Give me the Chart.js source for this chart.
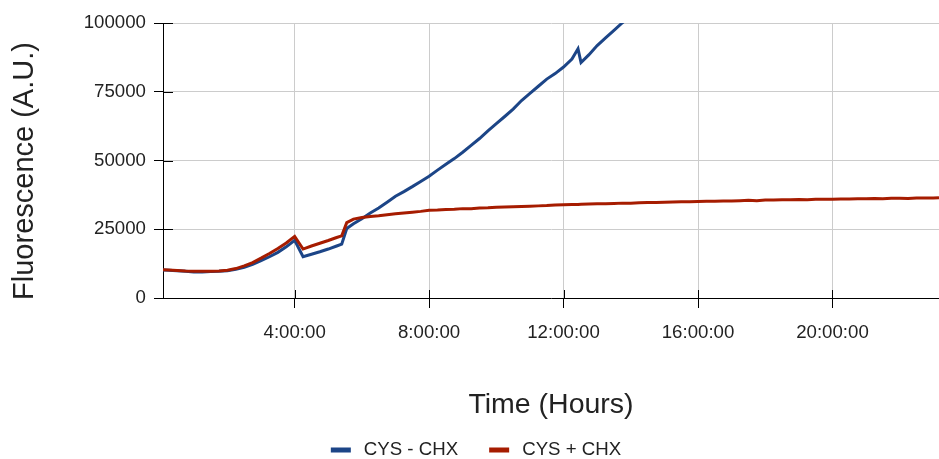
<!DOCTYPE html>
<html>
<head>
<meta charset="utf-8">
<script src="https://cdn.jsdelivr.net/npm/chart.js@4/dist/chart.umd.min.js"></script>
<style>
  html, body { margin: 0; padding: 0; background: #fff; }
</style>
</head>
<body>
<canvas id="grafico" width="939" height="459"></canvas>
<script>
// reading times, in hours since start
const hours = [
  0.083, 0.25, 0.5, 0.75,
  1, 1.25, 1.5, 1.75,
  2, 2.25, 2.5, 2.75,
  3, 3.25, 3.5, 3.75,
  4, 4.25, 4.5, 4.75,
  5, 5.25, 5.4, 5.55, 5.75,
  6, 6.25, 6.5, 6.75,
  7, 7.25, 7.5, 7.75,
  8, 8.25, 8.5, 8.75,
  9, 9.25, 9.5, 9.75,
  10, 10.25, 10.5, 10.75,
  11, 11.25, 11.5, 11.75,
  12, 12.25, 12.43, 12.52, 12.75,
  13, 13.25, 13.5, 13.75,
  14, 14.25, 14.5, 14.75,
  15, 15.25, 15.5, 15.75,
  16, 16.25, 16.5, 16.75,
  17, 17.25, 17.5, 17.75,
  18, 18.25, 18.5, 18.75,
  19, 19.25, 19.5, 19.75,
  20, 20.25, 20.5, 20.75,
  21, 21.25, 21.5, 21.75,
  22, 22.25, 22.5, 22.75,
  23, 23.17
]

// CYS - CHX goes past the top of the axis after ~14 h, so it stops there
const cysMinusChx = [
  10200, 10100, 9900, 9700,
  9500, 9500, 9600, 9700,
  9900, 10400, 11200, 12200,
  13600, 15000, 16600, 18600,
  21000, 15000, 15900, 16800,
  17800, 18900, 19600, 25300, 27000,
  28800, 30900, 32700, 34800,
  37000, 38700, 40500, 42400,
  44300, 46500, 48600, 50700,
  53000, 55500, 58000, 60800,
  63400, 66000, 68700, 71800,
  74400, 77000, 79600, 81600,
  84000, 86900, 90600, 85600, 88400,
  91800, 94600, 97300, 100100,
  102600
]

const cysPlusChx = [
  10300, 10200, 10000, 9800,
  9700, 9700, 9700, 9800,
  10100, 10700, 11700, 12900,
  14500, 16200, 18000, 20000,
  22400, 17800, 18900, 19900,
  20900, 22000, 22600, 27400, 28700,
  29300, 29600, 29900, 30300,
  30600, 30900, 31200, 31500,
  31900, 32000, 32200, 32300,
  32500, 32500, 32700, 32800,
  33000, 33100, 33200, 33300,
  33400, 33500, 33600, 33800,
  33900, 34000, 34000, 34100, 34200,
  34300, 34300, 34400, 34500,
  34500, 34600, 34700, 34700,
  34800, 34900, 35000, 35000,
  35100, 35200, 35200, 35300,
  35300, 35400, 35500, 35400,
  35600, 35600, 35700, 35700,
  35800, 35700, 35900, 35900,
  35900, 36000, 36000, 36100,
  36100, 36200, 36100, 36300,
  36300, 36200, 36400, 36400,
  36400, 36500
]

const yTicks = [0, 25000, 50000, 75000, 100000]
const xTicks = [4, 8, 12, 16, 20]

const seriesNames = ["CYS - CHX", "CYS + CHX"]
const seriesColors = ["#1c4587", "#a61c00"]
const yTitle = "Fluorescence (A.U.)"

const fontFamily = "'Liberation Sans', Arial, sans-serif"
const textColor = "#222"

function toPoints(values) {
    return values.map((v, i) => ({ x: hours[i], y: v }))
}

// 4 -> "4:00:00"
function formatHours(h) {
    let totalSec = Math.round(h * 3600)
    let hh = Math.floor(totalSec / 3600)
    let mm = Math.floor((totalSec % 3600) / 60)
    let ss = totalSec % 60
    return `${hh}:${String(mm).padStart(2, "0")}:${String(ss).padStart(2, "0")}`
}

// short black tick marks that also poke into the plot area
const innerTicks = {
    id: "innerTicks",
    beforeDatasetsDraw(chart) {
        const ctx = chart.ctx
        const area = chart.chartArea
        const x = chart.scales.x
        const y = chart.scales.y
        ctx.save()
        ctx.strokeStyle = "#000"
        ctx.lineWidth = 1
        ctx.beginPath()
        x.ticks.forEach(t => {
            let px = Math.round(x.getPixelForValue(t.value)) + 0.5
            ctx.moveTo(px, area.bottom - 8)
            ctx.lineTo(px, area.bottom)
        })
        y.ticks.forEach(t => {
            let py = Math.round(y.getPixelForValue(t.value)) + 0.5
            ctx.moveTo(area.left, py)
            ctx.lineTo(area.left + 10, py)
        })
        ctx.stroke()
        ctx.restore()
    }
}

// vertical axis title, sits a bit lower than the middle of the plot
const sideTitle = {
    id: "sideTitle",
    afterDraw(chart) {
        const ctx = chart.ctx
        ctx.save()
        ctx.translate(25, 171)
        ctx.rotate(-Math.PI / 2)
        ctx.font = `29px ${fontFamily}`
        ctx.fillStyle = textColor
        ctx.textAlign = "center"
        ctx.textBaseline = "middle"
        ctx.fillText(yTitle, 0, 0)
        ctx.restore()
    }
}

// legend row under the axis title
const bottomLegend = {
    id: "bottomLegend",
    afterDraw(chart) {
        const ctx = chart.ctx
        const sets = chart.data.datasets
        const swatch = 20
        const gap = 13
        const spacing = 31
        const cy = 450
        ctx.save()
        ctx.font = `18.67px ${fontFamily}`
        ctx.textBaseline = "middle"
        let widths = sets.map(d => swatch + gap + ctx.measureText(d.label).width)
        let total = widths.reduce((a, b) => a + b, 0) + spacing * (sets.length - 1)
        let x = 476 - total / 2
        sets.forEach((d, i) => {
            ctx.fillStyle = d.borderColor
            ctx.fillRect(x, cy - 2.5, swatch, 5)
            ctx.fillStyle = textColor
            ctx.fillText(d.label, x + swatch + gap, cy)
            x += widths[i] + spacing
        })
        ctx.restore()
    }
}

const ctx = document.getElementById("grafico").getContext("2d")
const chart = new Chart(ctx, {
    type: "line",
    data: {
        datasets: [
            {
                label: seriesNames[0],
                data: toPoints(cysMinusChx),
                borderColor: seriesColors[0],
                backgroundColor: seriesColors[0],
                borderWidth: 3,
                pointRadius: 0,
                tension: 0,
                order: 1
            },
            {
                label: seriesNames[1],
                data: toPoints(cysPlusChx),
                borderColor: seriesColors[1],
                backgroundColor: seriesColors[1],
                borderWidth: 3,
                pointRadius: 0,
                tension: 0,
                order: 0
            }
        ]
    },
    options: {
        responsive: false,
        animation: false,
        layout: { padding: { top: 23, right: 0, bottom: 37, left: 0 } },
        plugins: {
            legend: { display: false },
            tooltip: { enabled: false }
        },
        scales: {
            x: {
                type: "linear",
                min: 0.083,
                max: 23.17,
                afterBuildTicks: s => { s.ticks = xTicks.map(v => ({ value: v })) },
                afterFit: s => { s.height = 124 },
                border: { color: "#000", width: 1 },
                grid: { color: "#ccc", tickColor: "#000", tickLength: 10 },
                ticks: {
                    color: textColor,
                    font: { family: fontFamily, size: 18.67 },
                    padding: 14,
                    maxRotation: 0,
                    autoSkip: false,
                    callback: v => formatHours(v)
                },
                title: {
                    display: true,
                    text: "Time (Hours)",
                    color: textColor,
                    font: { family: fontFamily, size: 28.5 },
                    padding: { top: 0, bottom: 0 }
                }
            },
            y: {
                min: 0,
                max: 100000,
                afterBuildTicks: s => { s.ticks = yTicks.map(v => ({ value: v })) },
                afterFit: s => { s.width = 163 },
                border: { color: "#000", width: 1 },
                grid: { color: "#ccc", tickColor: "#000", tickLength: 9 },
                ticks: {
                    color: textColor,
                    font: { family: fontFamily, size: 18.67 },
                    padding: 8,
                    callback: v => String(v)
                },
                title: { display: false }
            }
        }
    },
    plugins: [innerTicks, sideTitle, bottomLegend]
})
</script>
</body>
</html>
